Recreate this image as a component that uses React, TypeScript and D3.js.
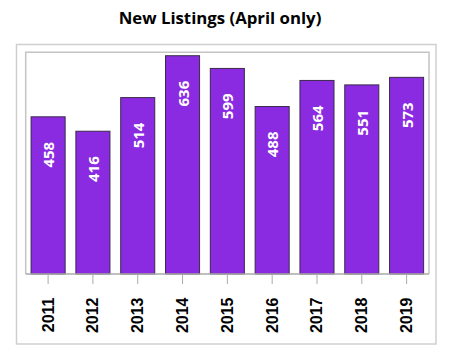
import React from "react";
import * as d3 from "d3";

const categories: string[] = ["2011", "2012", "2013", "2014", "2015", "2016", "2017", "2018", "2019"];
const values: number[] = [458, 416, 514, 636, 599, 488, 564, 551, 573];
const title = "New Listings (April only)";

const W = 451;
const H = 356;
const plot = { left: 25.7, right: 429, top: 52.3, bottom: 274 };

export default function App() {
  const x = d3
    .scaleBand<string>()
    .domain(categories)
    .range([plot.left, plot.right])
    .paddingInner(0.24)
    .paddingOuter(0.12);
  const y = d3.scaleLinear().domain([0, 646]).range([plot.bottom, plot.top]);

  return (
    <svg width={W} height={H} style={{ position: "absolute", left: 0, top: 0, background: "#fff" }}>
      <text
        x={220}
        y={24}
        textAnchor="middle"
        fontFamily="'Open Sans', sans-serif"
        fontWeight={700}
        fontSize={16.8}
        fill="#000"
      >
        {title}
      </text>
      {/* outer frame */}
      <rect x={16.5} y={44.5} width={419.5} height={299.5} fill="none" stroke="#cfcfcf" strokeWidth={1.5} />
      {/* inner frame */}
      <path
        d={`M${plot.left},${plot.bottom}V${plot.top}H${plot.right}V${plot.bottom}`}
        fill="none"
        stroke="#c4c4c4"
        strokeWidth={1.5}
      />
      {categories.map((c, i) => {
        const bx = x(c)!;
        const by = y(values[i]);
        const cx = bx + x.bandwidth() / 2;
        return (
          <g key={c}>
            <rect
              x={bx}
              y={by}
              width={x.bandwidth()}
              height={plot.bottom - by}
              fill="#8A2BE2"
              stroke="#3a2a4a"
              strokeWidth={1}
            />
            <text
              transform={`translate(${cx},${by + 25}) rotate(-90)`}
              textAnchor="end"
              dominantBaseline="central"
              fontFamily="'Open Sans', sans-serif"
              fontWeight={700}
              fontSize={15}
              fill="#fff"
            >
              {values[i]}
            </text>
            <line x1={cx} x2={cx} y1={plot.bottom} y2={284} stroke="#aaa" strokeWidth={1} />
            <text
              transform={`translate(${cx},${297.5}) rotate(-90)`}
              textAnchor="end"
              dominantBaseline="central"
              fontFamily="'Liberation Sans', Arial, sans-serif"
              fontWeight={700}
              fontSize={16}
              fill="#000"
            >
              {c}
            </text>
          </g>
        );
      })}
      {/* x axis line */}
      <line x1={plot.left} x2={plot.right} y1={plot.bottom} y2={plot.bottom} stroke="#aaa" strokeWidth={1.5} />
    </svg>
  );
}
